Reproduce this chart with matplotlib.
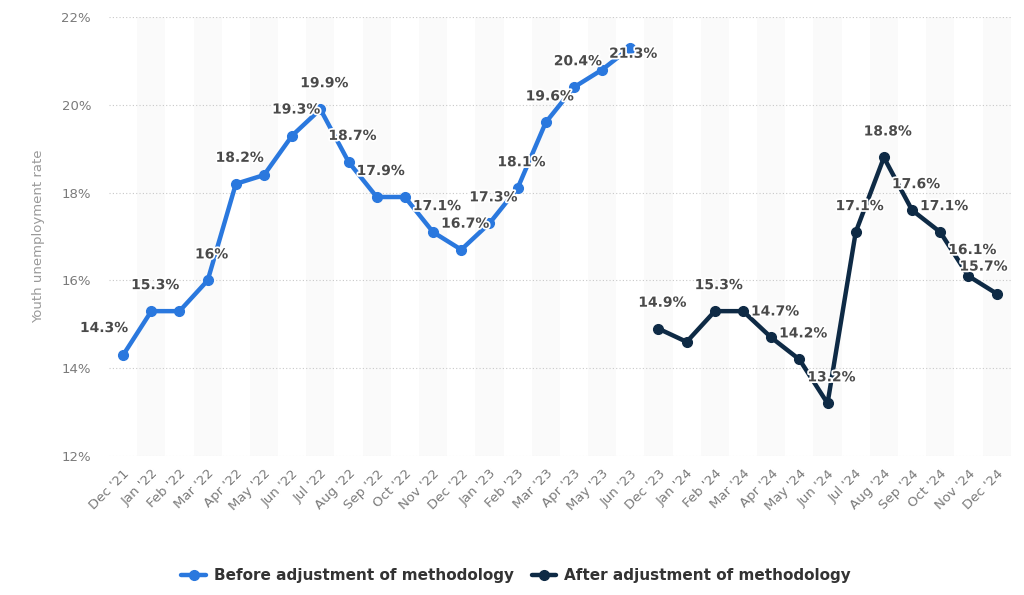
import matplotlib
matplotlib.use("Agg")
import matplotlib.pyplot as plt
import matplotlib.patheffects as pe

months = ["Dec '21", "Jan '22", "Feb '22", "Mar '22", "Apr '22", "May '22", "Jun '22",
          "Jul '22", "Aug '22", "Sep '22", "Oct '22", "Nov '22", "Dec '22", "Jan '23",
          "Feb '23", "Mar '23", "Apr '23", "May '23", "Jun '23", "Dec '23", "Jan '24",
          "Feb '24", "Mar '24", "Apr '24", "May '24", "Jun '24", "Jul '24", "Aug '24",
          "Sep '24", "Oct '24", "Nov '24", "Dec '24"]

before = [14.3, 15.3, 15.3, 16, 18.2, 18.4, 19.3, 19.9, 18.7, 17.9, 17.9, 17.1,
          16.7, 17.3, 18.1, 19.6, 20.4, 20.8, 21.3]
after = [14.9, 14.6, 15.3, 15.3, 14.7, 14.2, 13.2, 17.1, 18.8, 17.6, 17.1, 16.1, 15.7]

# which points carry a value label (as in the original chart)
before_shown = [1, 1, 0, 1, 1, 0, 1, 1, 1, 1, 0, 1, 1, 1, 1, 1, 1, 0, 1]
after_shown = [1, 0, 1, 0, 1, 1, 1, 1, 1, 1, 1, 1, 1]

blue = "#2a78de"
navy = "#0e2a45"

fig = plt.figure(figsize=(10.24, 5.95), dpi=100)
ax = fig.add_axes([0.1065, 0.2336, 0.8805, 0.7378])

x_before = list(range(len(before)))
x_after = list(range(len(before), len(before) + len(after)))

# alternating light column bands
for i in range(len(months)):
    if i % 2 == 1:
        ax.axvspan(i - 0.5, i + 0.5, color="#fafafa", zorder=0, lw=0)

ax.set_ylim(12, 22)
ax.set_xlim(-0.5, len(months) - 0.5)
ax.set_yticks([12, 14, 16, 18, 20, 22])
ax.set_yticklabels([f"{v}%" for v in [12, 14, 16, 18, 20, 22]])
ax.grid(axis="y", color="#c8c8c8", linestyle=(0, (1, 2)), lw=0.8, zorder=1)
ax.set_axisbelow(True)

l1, = ax.plot(x_before, before, color=blue, lw=3.2, marker="o", ms=7, zorder=3,
              solid_capstyle="round", label="Before adjustment of methodology")
l2, = ax.plot(x_after, after, color=navy, lw=3.2, marker="o", ms=7, zorder=3,
              solid_capstyle="round", label="After adjustment of methodology")

ax.set_xticks(range(len(months)))
ax.set_xticklabels(months, rotation=45, ha="right", rotation_mode="anchor")
ax.tick_params(axis="both", length=0, labelsize=9.5, labelcolor="#7a7a7a")
ax.tick_params(axis="x", pad=8)
ax.tick_params(axis="y", pad=13)
for s in ax.spines.values():
    s.set_visible(False)

ax.set_ylabel("Youth unemployment rate", color="#999999", fontsize=9.5, labelpad=12)

# value labels
offsets = {0: (-19, 27), 18: (3, -6), 31: (-13, 27)}
stroke = [pe.withStroke(linewidth=2.5, foreground="white")]
points = list(zip(x_before, before, before_shown)) + list(zip(x_after, after, after_shown))
for xi, v, show in points:
    if not show:
        continue
    dx, dy = offsets.get(xi, (4, 26))
    txt = f"{v:g}%"
    ax.annotate(txt, (xi, v), xytext=(dx, dy), textcoords="offset pixels",
                ha="center", va="center", fontsize=10, fontweight="bold",
                color="#4a4a4a", path_effects=stroke, zorder=5)

fig.legend(handles=[l1, l2], loc="center", bbox_to_anchor=(0.504, 0.032), ncol=2,
           frameon=False, handlelength=1.6, columnspacing=1.2, handletextpad=0.5,
           prop={"weight": "bold", "size": 11}, labelcolor="#333333")

fig.savefig("out.png", dpi=100)
